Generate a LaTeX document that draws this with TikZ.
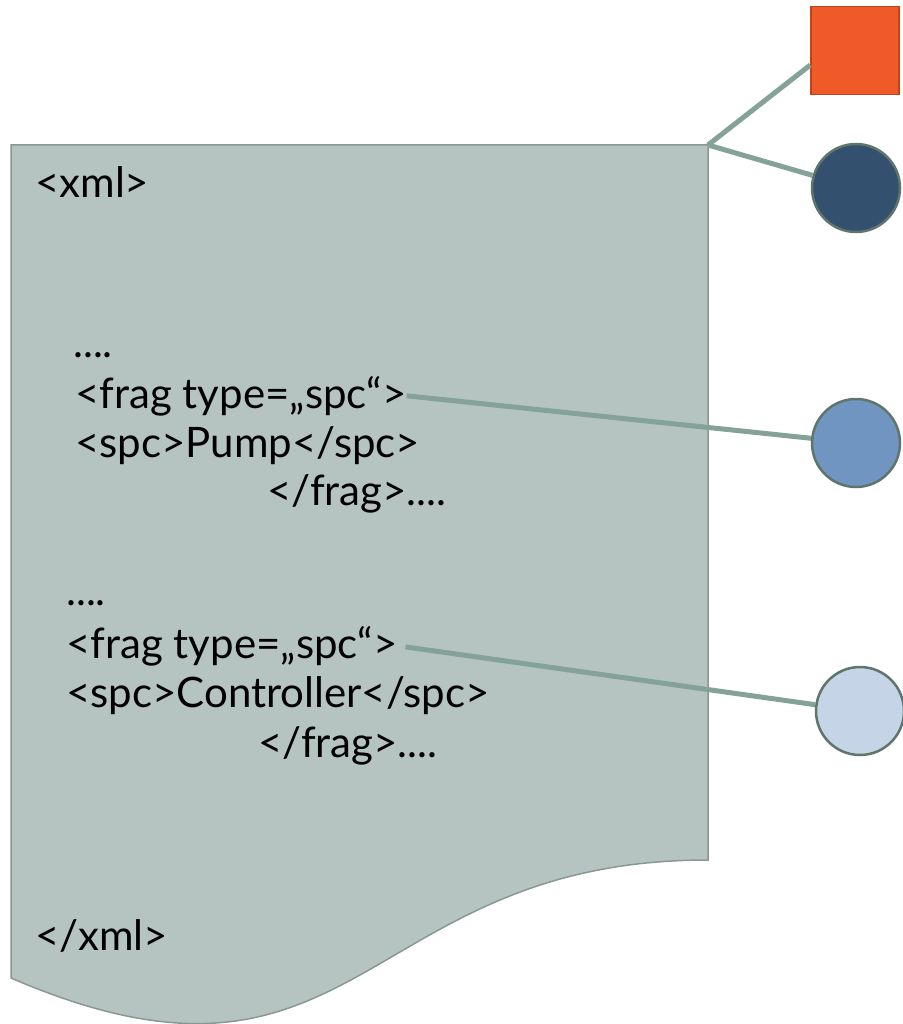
\documentclass[tikz,border=0pt]{standalone}
\usepackage{fontspec}
\setmainfont{Lato}
\definecolor{docfill}{HTML}{B5C4C0}
\definecolor{docline}{HTML}{8A9893}
\definecolor{linkc}{HTML}{84A298}
\definecolor{rimc}{HTML}{5F756C}
\definecolor{orangec}{HTML}{F05A28}
\definecolor{orangerim}{HTML}{C0441A}
\definecolor{navyc}{HTML}{34506F}
\definecolor{midc}{HTML}{7095C0}
\definecolor{palec}{HTML}{C5D4E6}

\begin{document}
\begin{tikzpicture}[x=1pt,y=-1pt,doc/.style={fill=docfill,draw=docline,line width=1.5pt},code/.style={anchor=base west,inner sep=0pt,font=\fontsize{42}{50}\selectfont},link/.style={draw=linkc,line width=5pt},spot/.style={shape=circle,minimum size=88pt,inner sep=0pt,draw=rimc,line width=2.5pt},spotA/.style={spot,fill=navyc},spotB/.style={spot,fill=midc},spotC/.style={spot,fill=palec},tag/.style={shape=rectangle,minimum size=88pt,inner sep=0pt,fill=orangec,draw=orangerim,line width=1.5pt}]
\useasboundingbox (0,0) rectangle (902,1024);
\def\dl{11};
\def\dr{708};
\def\dt{145};

\draw[doc] (\dl,\dt) -- (\dr,\dt) -- (\dr,860) .. controls (359.5,860) and (359.5,1128) .. (\dl,978) -- cycle;

\node[code] (open) at (35,198) {<xml>};
\node[code] (dotsA) at (73,357) {....};
\node[code] (fragA) at (75,408) {<frag type=„spc“>};
\node[code] (pump) at (75,457) {<spc>Pump</spc>};
\node[code] (endA) at (267,505) {</frag>....};
\node[code] (dotsB) at (66,605) {....};
\node[code] (fragB) at (66,658) {<frag type=„spc“>};
\node[code] (ctrl) at (66,707) {<spc>Controller</spc>};
\node[code] (endB) at (258,757) {</frag>....};
\node[code] (close) at (35,950) {</xml>};

\node[tag] (sq) at (855,50.5) {};
\node[spotA] (circA) at (856,188) {};
\node[spotB] (circB) at (856,443) {};
\node[spotC] (circC) at (860,711) {};

\coordinate (corner) at (\dr,\dt);
\draw[link] (corner) -- (sq.198);
\draw[link] (corner) -- (circA);
\draw[link] (fragA.east) -- (circB);
\draw[link,shorten <=8pt] (fragB.east) -- (circC);

\end{tikzpicture}
\end{document}
